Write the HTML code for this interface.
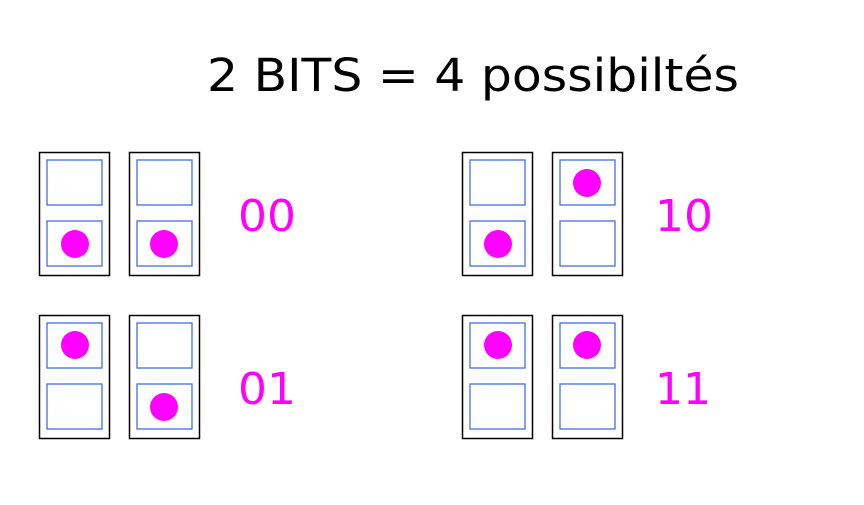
<!DOCTYPE html>
<html><head><meta charset="utf-8"><style>
body{margin:0;background:#fff;width:864px;height:500px;overflow:hidden}
</style></head><body>
<svg width="864" height="500" xmlns="http://www.w3.org/2000/svg">
<text x="207" y="91" font-family="DejaVu Sans, sans-serif" font-size="45" fill="#000" textLength="532" lengthAdjust="spacingAndGlyphs">2 BITS = 4 possibiltés</text>
<defs>
<g id="b">
<rect x="0.5" y="0.5" width="70" height="123" fill="#fff" stroke="#000" stroke-width="1.5"/>
<rect x="8" y="8" width="55" height="45" fill="none" stroke="#4f78ea" stroke-width="1.4"/>
<rect x="8" y="69" width="55" height="45" fill="none" stroke="#4f78ea" stroke-width="1.4"/>
</g>
</defs>
<g font-family="DejaVu Sans, sans-serif" font-size="44" fill="#f0f">
<use href="#b" x="39" y="152"/><use href="#b" x="129" y="152"/>
<circle cx="75" cy="244" r="14"/><circle cx="164" cy="244" r="14"/>
<text x="238" y="231" textLength="58" lengthAdjust="spacingAndGlyphs">00</text>
<use href="#b" x="462" y="152"/><use href="#b" x="552" y="152"/>
<circle cx="498" cy="244" r="14"/><circle cx="587" cy="183" r="14"/>
<text x="655" y="231" textLength="58" lengthAdjust="spacingAndGlyphs">10</text>
<use href="#b" x="39" y="315"/><use href="#b" x="129" y="315"/>
<circle cx="75" cy="345" r="14"/><circle cx="164" cy="407" r="14"/>
<text x="238" y="404" textLength="58" lengthAdjust="spacingAndGlyphs">01</text>
<use href="#b" x="462" y="315"/><use href="#b" x="552" y="315"/>
<circle cx="498" cy="345" r="14"/><circle cx="587" cy="345" r="14"/>
<text x="655" y="404" textLength="56" lengthAdjust="spacingAndGlyphs">11</text>
</g>
</svg>
</body></html>
